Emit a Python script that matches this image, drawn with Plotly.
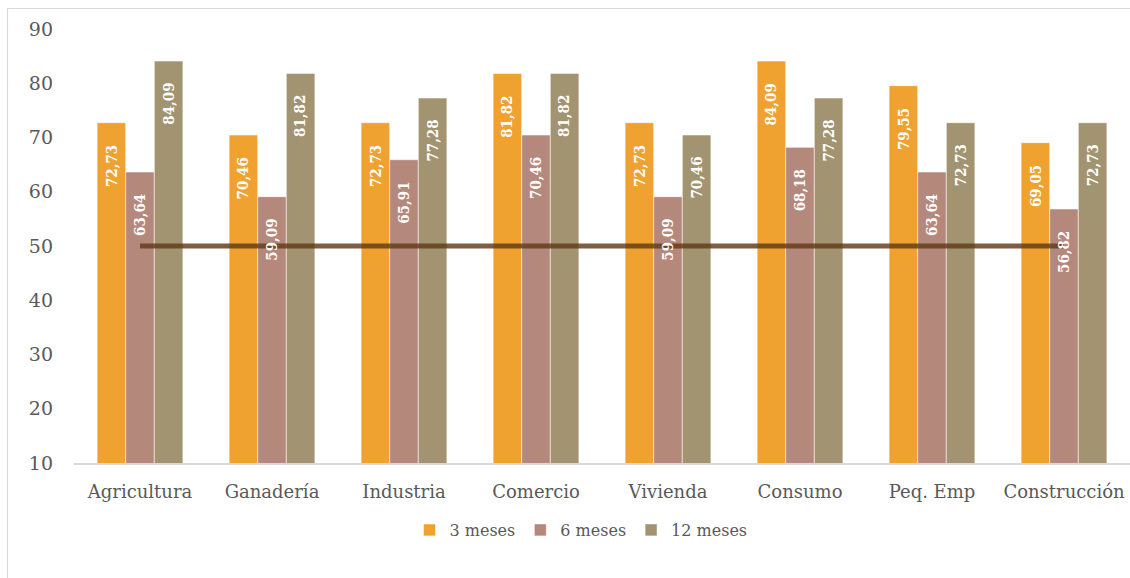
import plotly.graph_objects as go

# Categories and series values
categorias = ["Agricultura", "Ganadería", "Industria", "Comercio",
              "Vivienda", "Consumo", "Peq. Emp", "Construcción"]
tres_meses = [72.73, 70.46, 72.73, 81.82, 72.73, 84.09, 79.55, 69.05]
seis_meses = [63.64, 59.09, 65.91, 70.46, 59.09, 68.18, 63.64, 56.82]
doce_meses = [84.09, 81.82, 77.28, 81.82, 70.46, 77.28, 72.73, 72.73]
umbral = [50, 50, 50, 50, 50, 50, 50, 50]

series = [
    ("3 meses", tres_meses, "#EFA22F"),
    ("6 meses", seis_meses, "#B5887C"),
    ("12 meses", doce_meses, "#A29471"),
]

W, H = 1130, 578
ML, MR, MT, MB = 74, 0, 29, 115
PW, PH = W - ML - MR, H - MT - MB
BARGAP = 0.35

SERIF = "DejaVu Serif"
SERIF_COND = "DejaVu Serif Condensed, DejaVu Serif"
GRIS = "#595959"

fig = go.Figure()
for nombre, valores, color in series:
    fig.add_trace(go.Bar(
        x=categorias, y=valores, name=nombre,
        marker=dict(color=color, line=dict(color="rgba(255,255,255,0.55)", width=1)),
        cliponaxis=True,
    ))

# Threshold line over the bars
fig.add_trace(go.Scatter(
    x=categorias, y=umbral, mode="lines", name="Umbral", showlegend=False,
    line=dict(color="rgba(96,58,24,0.82)", width=5),
))

# Value labels (annotations so they sit above the threshold line)
ancho_barra = PW / len(categorias) * (1 - BARGAP) / len(series)
for i, (nombre, valores, color) in enumerate(series):
    desplazamiento = (i - (len(series) - 1) / 2) * ancho_barra
    for cat, v in zip(categorias, valores):
        fig.add_annotation(
            x=cat, y=v, xref="x", yref="y",
            text=f"{v:.2f}".replace(".", ","),
            showarrow=False, textangle=-90,
            xanchor="center", yanchor="top",
            xshift=desplazamiento, yshift=-20,
            font=dict(family=SERIF_COND, size=15, color="white", weight="bold"),
        )

# Outer chart frame (px -> paper coordinates)
def px_x(p):
    return (p - ML) / PW

def px_y(p):
    return (H - MB - p) / PH

fig.add_shape(type="rect", xref="paper", yref="paper",
              x0=px_x(7.5), x1=px_x(W + 20), y0=px_y(H + 20), y1=px_y(8.5),
              line=dict(color="#D9D9D9", width=1.2), fillcolor="rgba(0,0,0,0)",
              layer="below")

fig.update_layout(
    width=W, height=H,
    margin=dict(l=ML, r=MR, t=MT, b=MB),
    paper_bgcolor="white", plot_bgcolor="white",
    barmode="group", bargap=BARGAP, bargroupgap=0,
    separators=",.",
    font=dict(family=SERIF, color=GRIS, size=18),
    xaxis=dict(
        showgrid=False, showline=True, linecolor="#D9D9D9", linewidth=2,
        ticks="", tickfont=dict(family=SERIF, size=18, color=GRIS),
        ticklabelstandoff=11,
    ),
    yaxis=dict(
        range=[10, 90], dtick=10, showgrid=False, zeroline=False,
        showline=False, ticks="",
        tickfont=dict(family=SERIF, size=19, color=GRIS),
        ticklabelstandoff=20,
    ),
    legend=dict(
        orientation="h", x=(581 - ML) / PW, xanchor="center",
        y=-(530 - (H - MB)) / PH, yanchor="middle",
        font=dict(family=SERIF, size=16, color=GRIS),
        itemwidth=30, traceorder="normal",
    ),
    showlegend=True,
)

fig.write_html("out.html")
